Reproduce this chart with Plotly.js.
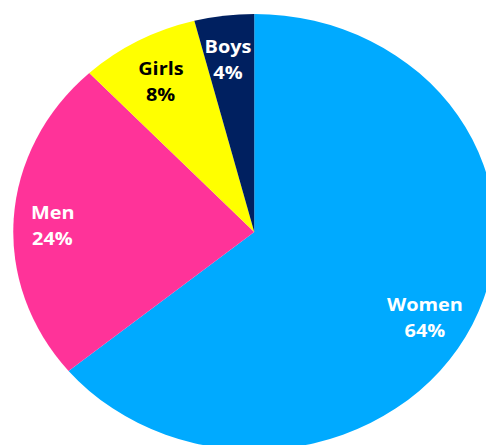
<!DOCTYPE html>
<html>
<head>
<meta charset="utf-8">
<script src="https://cdn.plot.ly/plotly-3.0.1.min.js"></script>
<style>
  html, body { margin: 0; padding: 0; background: #fff; overflow: hidden; width: 486px; height: 445px; }
  #chart { width: 460px; height: 450px; transform: scaleX(1.1055); transform-origin: 0 0; }
</style>
</head>
<body>
<div id="chart"></div>
<script>
// slices listed clockwise from 12 o'clock
const labels = ["Women", "Men", "Girls", "Boys"];
const values = [64, 24, 8, 4];
const colors = ["#00AAFF", "#FF3399", "#FFFF00", "#002060"];
const textColors = ["#FFFFFF", "#FFFFFF", "#000000", "#FFFFFF"];
const labelRadius = [0.80, 0.84, 0.80, 0.80];
const labelNudgeY = [-11, -4, -2, 0];
const labelNudgeX = [-3, 0, 0, -2];

const total = values.reduce((a, b) => a + b, 0);
const annotations = [];
let cum = 0;
values.forEach((v, i) => {
  const mid = (cum + v / 2) / total * 2 * Math.PI; // clockwise from 12 o'clock
  cum += v;
  const r = labelRadius[i] * 0.5;
  const x = 0.5 + r * Math.sin(mid);
  const y = 0.5 + r * Math.cos(mid);
  const pct = Math.round(v / total * 100) + "%";
  const font = { family: "Open Sans, sans-serif", size: 18, color: textColors[i], weight: 700 };
  annotations.push({ xref: "paper", yref: "paper", x: x, y: y, text: "<b>" + labels[i] + "</b>", showarrow: false, font: font, xshift: labelNudgeX[i], yshift: 13 + labelNudgeY[i], xanchor: "center", yanchor: "middle" });
  annotations.push({ xref: "paper", yref: "paper", x: x, y: y, text: "<b>" + pct + "</b>", showarrow: false, font: font, xshift: labelNudgeX[i], yshift: -13 + labelNudgeY[i], xanchor: "center", yanchor: "middle" });
});

const trace = {
  type: "pie",
  labels: labels,
  values: values,
  sort: false,
  direction: "clockwise",
  rotation: 0,
  marker: { colors: colors, line: { width: 0 } },
  textinfo: "none",
  hoverinfo: "label+percent"
};

const layout = {
  width: 460,
  height: 450,
  margin: { l: 12, r: 12, t: 14, b: 0 },
  showlegend: false,
  paper_bgcolor: "#FFFFFF",
  annotations: annotations
};

Plotly.newPlot("chart", [trace], layout, { displayModeBar: false, staticPlot: true });
</script>
</body>
</html>
